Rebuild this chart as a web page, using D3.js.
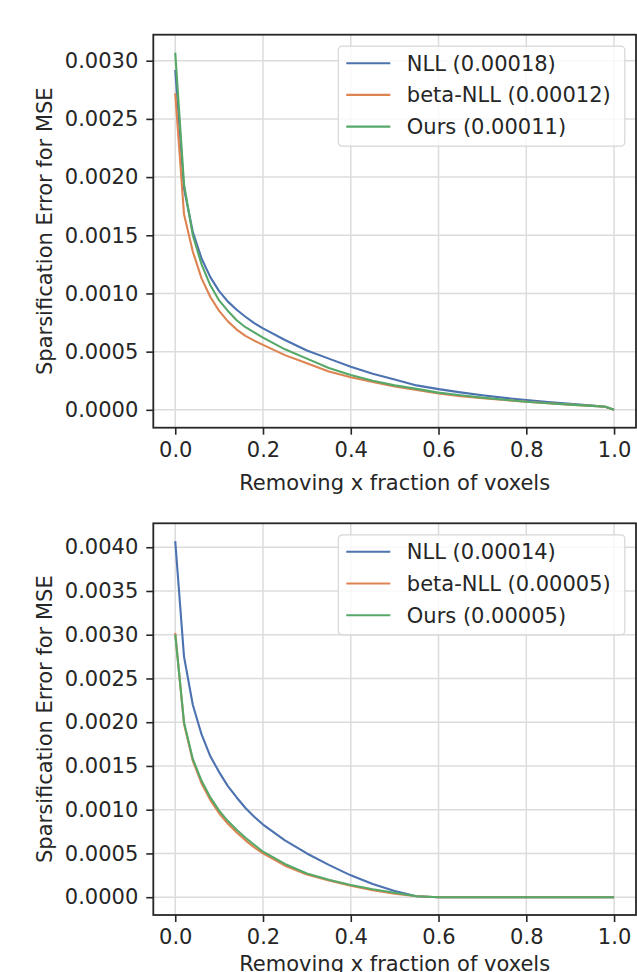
<!DOCTYPE html>
<html>
<head>
<meta charset="utf-8">
<script src="https://cdn.jsdelivr.net/npm/d3@7"></script>
<style>
  body { margin: 0; background: #fff; }
  svg { display: block; font-family: "DejaVu Sans", sans-serif; }
</style>
</head>
<body>
<script>
// x positions (fraction of voxels removed)
const xs = [0, 0.02, 0.04, 0.06, 0.08, 0.10, 0.12, 0.14, 0.16, 0.18, 0.20,
  0.25, 0.30, 0.35, 0.40, 0.45, 0.50, 0.55, 0.60, 0.65, 0.70, 0.75, 0.80, 0.85, 0.90, 0.95, 0.98, 1.0];

// top panel
const nllTop = [0.00292, 0.00190, 0.00153, 0.00130, 0.00114, 0.00102, 0.00093, 0.00086, 0.00080, 0.000745, 0.00070,
  0.00060, 0.00051, 0.00044, 0.00037, 0.00031, 0.00026, 0.00021, 0.000178, 0.000150, 0.000125, 0.000103, 0.000085, 0.000068, 0.000052, 0.000037, 0.000026, 0];
const betaTop = [0.00272, 0.00168, 0.00136, 0.00113, 0.00097, 0.00085, 0.00076, 0.00069, 0.000635, 0.000595, 0.000558,
  0.00047, 0.00040, 0.00033, 0.00028, 0.00024, 0.00020, 0.00017, 0.000140, 0.000118, 0.000100, 0.000084, 0.000069, 0.000056, 0.000045, 0.000034, 0.000026, 0];
const oursTop = [0.00307, 0.00194, 0.00150, 0.00125, 0.00107, 0.00094, 0.00085, 0.00077, 0.00071, 0.000665, 0.00062,
  0.00052, 0.00044, 0.00036, 0.00030, 0.00025, 0.00021, 0.00018, 0.000148, 0.000125, 0.000105, 0.000087, 0.000070, 0.000057, 0.000045, 0.000034, 0.000026, 0];
const labelsTop = ["NLL (0.00018)", "beta-NLL (0.00012)", "Ours (0.00011)"];
const yTicksTop = [0, 0.0005, 0.0010, 0.0015, 0.0020, 0.0025, 0.0030];

// bottom panel
const nllBot = [0.00407, 0.00275, 0.00220, 0.00186, 0.00161, 0.00143, 0.00127, 0.00114, 0.00102, 0.00092, 0.00083,
  0.00065, 0.00050, 0.00037, 0.00025, 0.00015, 0.00007, 0.00001, 0, 0, 0, 0, 0, 0, 0, 0, 0, 0];
const betaBot = [0.00302, 0.00198, 0.00156, 0.00130, 0.00111, 0.00096, 0.00084, 0.00074, 0.00065, 0.00057, 0.00050,
  0.00036, 0.00026, 0.00019, 0.00013, 0.00008, 0.00004, 0.00001, 0, 0, 0, 0, 0, 0, 0, 0, 0, 0];
const oursBot = [0.00300, 0.00200, 0.00158, 0.00133, 0.00114, 0.00099, 0.00087, 0.00077, 0.00068, 0.00060, 0.00052,
  0.00038, 0.00027, 0.00020, 0.00014, 0.00009, 0.00005, 0.00001, 0, 0, 0, 0, 0, 0, 0, 0, 0, 0];
const labelsBot = ["NLL (0.00014)", "beta-NLL (0.00005)", "Ours (0.00005)"];
const yTicksBot = [0, 0.0005, 0.0010, 0.0015, 0.0020, 0.0025, 0.0030, 0.0035, 0.0040];

const xTicks = [0, 0.2, 0.4, 0.6, 0.8, 1.0];
const colors = ["#4c72b0", "#dd8452", "#55a868"];

const W = 637, H = 972;
const left = 153.3, right = 636;
const textColor = "#262626";

const svg = d3.select("body").append("svg")
  .attr("width", W).attr("height", H);

function panel(top, bottom, series, labels, yTicks, xlabOffset) {
  const x = d3.scaleLinear().domain([-0.05, 1.05]).range([left, right]);
  const ymax = d3.max(series.flat());
  const pad = ymax * 0.05;
  const y = d3.scaleLinear().domain([-pad, ymax + pad]).range([bottom, top]);
  const g = svg.append("g");

  // grid
  g.append("g").selectAll("line").data(xTicks).join("line")
    .attr("x1", d => x(d)).attr("x2", d => x(d))
    .attr("y1", top).attr("y2", bottom)
    .attr("stroke", "#dcdcdc").attr("stroke-width", 1.5);
  g.append("g").selectAll("line").data(yTicks).join("line")
    .attr("x1", left).attr("x2", right)
    .attr("y1", d => y(d)).attr("y2", d => y(d))
    .attr("stroke", "#dcdcdc").attr("stroke-width", 1.5);

  // curves
  const line = d3.line().x((d, i) => x(xs[i])).y(d => y(d));
  g.append("g").selectAll("path").data(series).join("path")
    .attr("d", line)
    .attr("fill", "none")
    .attr("stroke", (d, i) => colors[i])
    .attr("stroke-width", 2.1)
    .attr("stroke-linejoin", "round");

  // axes
  const ax = g.append("g").attr("transform", `translate(0,${bottom})`)
    .call(d3.axisBottom(x).tickValues(xTicks).tickFormat(d3.format(".1f")).tickSize(7).tickPadding(7));
  const ay = g.append("g").attr("transform", `translate(${left},0)`)
    .call(d3.axisLeft(y).tickValues(yTicks).tickFormat(d3.format(".4f")).tickSize(7).tickPadding(8));
  [ax, ay].forEach(a => {
    a.select(".domain").remove();
    a.selectAll(".tick line").attr("stroke", textColor).attr("stroke-width", 1.6);
    a.selectAll(".tick text").attr("fill", textColor).style("font-size", "21px")
      .style("font-family", "DejaVu Sans");
  });

  // frame
  g.append("rect")
    .attr("x", left).attr("y", top)
    .attr("width", right - left).attr("height", bottom - top)
    .attr("fill", "none").attr("stroke", textColor).attr("stroke-width", 1.8);

  // axis labels
  g.append("text")
    .attr("x", (left + right) / 2).attr("y", bottom + xlabOffset)
    .attr("text-anchor", "middle").attr("fill", textColor)
    .style("font-size", "21px")
    .text("Removing x fraction of voxels");
  g.append("text")
    .attr("transform", `translate(52,${(top + bottom) / 2}) rotate(-90)`)
    .attr("text-anchor", "middle").attr("fill", textColor)
    .style("font-size", "21px")
    .text("Sparsification Error for MSE");

  // legend
  const lg = g.append("g").attr("transform", `translate(338.3,${top + 11.5})`);
  lg.append("rect")
    .attr("width", 286.5).attr("height", 100)
    .attr("rx", 4)
    .attr("fill", "#fff").attr("fill-opacity", 0.8)
    .attr("stroke", "#d6d6d6").attr("stroke-width", 1.2);
  const item = lg.selectAll("g.item").data(labels).join("g")
    .attr("class", "item")
    .attr("transform", (d, i) => `translate(0,${17 + i * 31.7})`);
  item.append("line")
    .attr("x1", 8).attr("x2", 52)
    .attr("stroke", (d, i) => colors[i]).attr("stroke-width", 2.1);
  item.append("text")
    .attr("x", 68.5).attr("dy", "0.35em")
    .attr("fill", textColor)
    .style("font-size", "21px")
    .text(d => d);
}

panel(34.7, 427.7, [nllTop, betaTop, oursTop], labelsTop, yTicksTop, 61.8);
panel(523.3, 915, [nllBot, betaBot, oursBot], labelsBot, yTicksBot, 56);
</script>
</body>
</html>
